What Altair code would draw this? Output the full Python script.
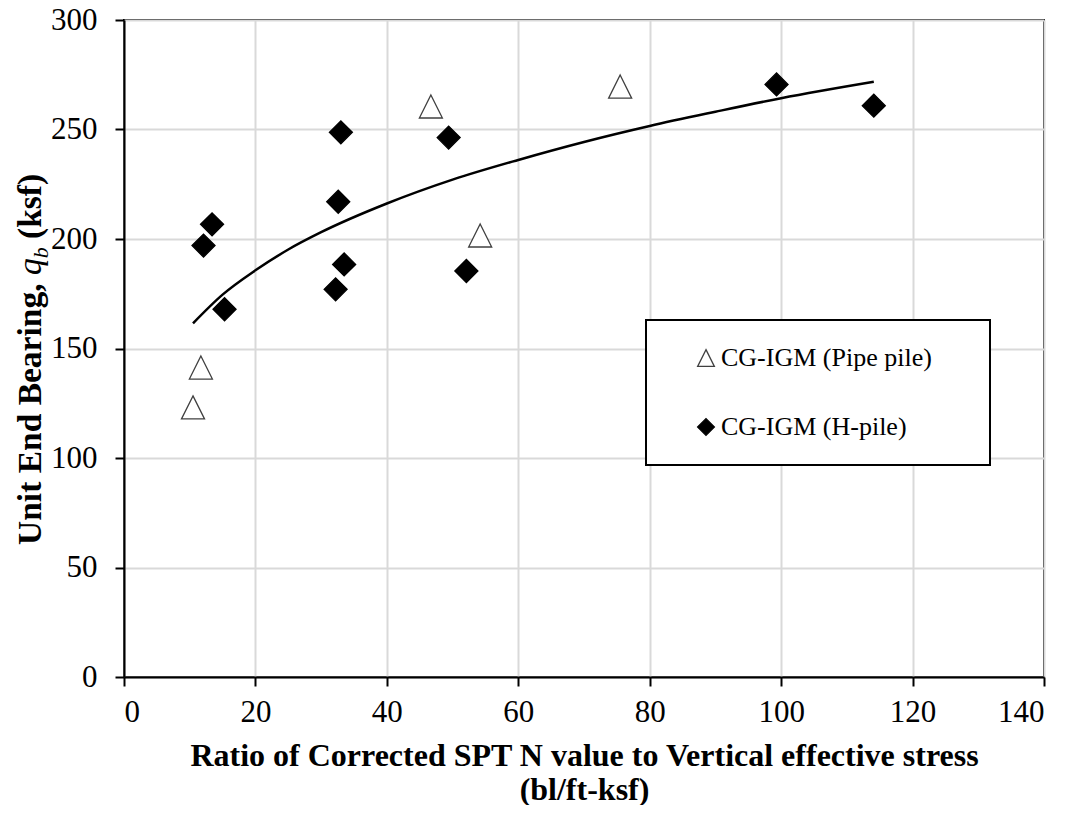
import altair as alt
import pandas as pd

# --- data ---
pipe_x = [10.5, 11.7, 46.7, 54.2, 75.5]
pipe_y = [123.1, 141.3, 260.5, 201.6, 269.6]
h_x = [12.1, 13.4, 15.3, 32.2, 32.6, 33.5, 33.0, 49.4, 52.1, 99.3, 114.1]
h_y = [197.0, 206.7, 167.9, 177.0, 217.0, 188.4, 248.7, 246.3, 185.4, 270.6, 260.9]
trend_x = [10.5, 15, 20, 25, 30, 40, 50, 60, 70, 80, 90, 100, 114.1]
trend_y = [161.5, 174.6, 185.7, 195.2, 203.1, 216.2, 227.1, 236.1, 244.3, 251.6, 258.1, 264.3, 271.8]
series_names = ["CG-IGM (Pipe pile)", "CG-IGM (H-pile)"]
x_ticks = [0, 20, 40, 60, 80, 100, 120, 140]
y_ticks = [0, 50, 100, 150, 200, 250, 300]
x_title = ["Ratio of Corrected SPT N value to Vertical effective stress", "(bl/ft-ksf)"]
y_title_parts = ["Unit End Bearing,", "q", "b", "(ksf)"]

FONT = "Liberation Serif"

pts = pd.DataFrame({
    "x": pipe_x + h_x,
    "y": pipe_y + h_y,
    "series": [series_names[0]] * len(pipe_x) + [series_names[1]] * len(h_x),
})
trend = pd.DataFrame({"x": trend_x, "y": trend_y})

xscale = alt.Scale(domain=[0, 140], nice=False, zero=True)
yscale = alt.Scale(domain=[0, 300], nice=False, zero=True)

xaxis = alt.Axis(
    values=x_ticks,
    title=x_title,
    titleFontSize=32, titleFontWeight="bold", titleFont=FONT, titleColor="black",
    titleLineHeight=34, titlePadding=13,
    labelFont=FONT, labelFontSize=31, labelColor="black", labelPadding=11,
    tickSize=9, tickColor="black", tickWidth=2,
    domainColor="black", domainWidth=2,
    grid=True, gridColor="#d9d9d9", gridWidth=2,
)
yaxis = alt.Axis(
    values=y_ticks,
    title=None,
    labelFont=FONT, labelFontSize=31, labelColor="black", labelPadding=18,
    tickSize=9, tickColor="black", tickWidth=2,
    domainColor="black", domainWidth=2,
    grid=True, gridColor="#d9d9d9", gridWidth=2,
)

tri = "M0,-1L1,1L-1,1Z"
# trailing blank room in the legend box (zero-width char keeps the spaces from being trimmed)
leg = alt.Legend(title=None, labelExpr="datum.label + '\u00a0\u00a0\u00a0\u00a0\u00a0\u200b'", labelLimit=600)

points = alt.Chart(pts).mark_point(size=530, filled=False, strokeWidth=1.3, opacity=1).encode(
    x=alt.X("x:Q", scale=xscale, axis=xaxis),
    y=alt.Y("y:Q", scale=yscale, axis=yaxis),
    shape=alt.Shape("series:N", scale=alt.Scale(domain=series_names, range=[tri, "diamond"]), legend=leg),
    fill=alt.Fill("series:N", scale=alt.Scale(domain=series_names, range=["white", "black"]), legend=leg),
    stroke=alt.Stroke("series:N", scale=alt.Scale(domain=series_names, range=["#404040", "black"]), legend=leg),
)

line = alt.Chart(trend).mark_line(color="black", strokeWidth=2.5, interpolate="monotone").encode(
    x=alt.X("x:Q", scale=xscale),
    y=alt.Y("y:Q", scale=yscale),
)

# y-axis title built from pieces (italic q with subscript b), rotated
one = pd.DataFrame({"k": [0]})
FS = 33.5
TX = -83      # baseline position left of the plot
Y0 = 525      # start of the title (bottom end), plot coordinates
W1 = 8.057 * FS          # "Unit End Bearing, " incl. trailing space
WQ = 0.5 * FS
WB = 0.5 * 22
WSP = 0.25 * FS


def piece(txt, y, x=TX, size=FS, weight="bold", style="normal"):
    return alt.Chart(one).mark_text(
        text=txt, angle=270, align="left", baseline="alphabetic",
        font=FONT, fontSize=size, fontWeight=weight, fontStyle=style, color="black",
    ).encode(x=alt.value(x), y=alt.value(y))


t1 = piece(y_title_parts[0], Y0)
t2 = piece(y_title_parts[1], Y0 - W1, weight="normal", style="italic")
t3 = piece(y_title_parts[2], Y0 - W1 - WQ, x=TX + 7, size=22, weight="normal", style="italic")
t4 = piece(y_title_parts[3], Y0 - W1 - WQ - WB - WSP)

chart = (
    alt.layer(line, points, t1, t2, t3, t4)
    .properties(
        width=920, height=657,
        autosize=alt.AutoSizeParams(type="none"),
        padding={"left": 116, "top": 12, "right": 19, "bottom": 128},
        background="white",
    )
    .configure_view(stroke="black", strokeWidth=2)
    .configure_legend(
        orient="none", legendX=522, legendY=300,
        strokeColor="black", strokeWidth=2, fillColor="white",
        padding=25, symbolOffset=22, labelOffset=2, rowPadding=43,
        labelFont=FONT, labelFontSize=26, labelColor="black",
        symbolSize=280, symbolStrokeWidth=1.3,
    )
)

chart.save("out.html", embed_options={"renderer": "svg", "actions": False})
